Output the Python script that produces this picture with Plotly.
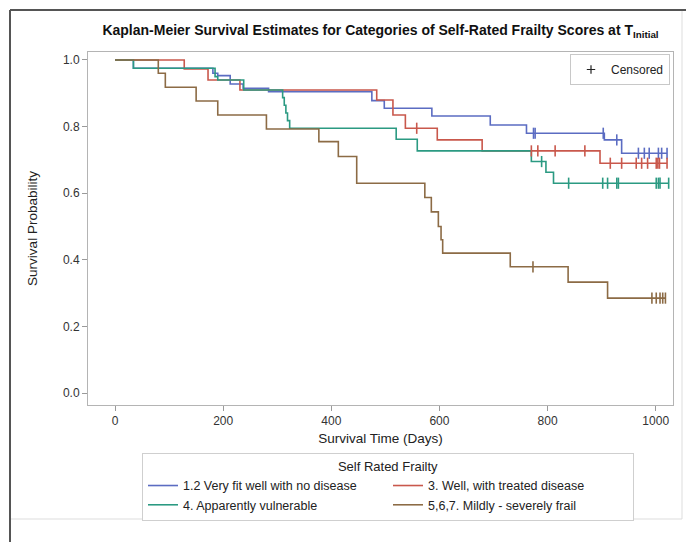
import plotly.graph_objects as go

# ---------------- data ----------------
group_names = [
    "1.2 Very fit well with no disease",
    "3. Well, with treated disease",
    "4. Apparently vulnerable",
    "5,6,7. Mildly - severely frail",
]

blue_times = [0, 34, 181, 190, 213, 237, 284, 475, 498, 586, 694, 761, 905, 937]
blue_surv = [1.0, 0.975, 0.96, 0.953, 0.928, 0.915, 0.905, 0.878, 0.855, 0.832, 0.805, 0.78, 0.76, 0.72]
blue_censor = [774, 777, 903, 928, 968, 979, 988, 1005, 1011, 1021]

red_times = [0, 128, 172, 231, 484, 514, 537, 596, 679, 897]
red_surv = [1.0, 0.973, 0.94, 0.91, 0.88, 0.835, 0.795, 0.76, 0.727, 0.69]
red_censor = [558, 770, 782, 814, 869, 916, 937, 964, 974, 985, 1001, 1004, 1007, 1021]

teal_times = [0, 34, 185, 190, 238, 310, 313, 316, 319, 323, 520, 559, 770, 797, 811]
teal_surv = [1.0, 0.975, 0.95, 0.94, 0.91, 0.887, 0.864, 0.841, 0.818, 0.795, 0.762, 0.727, 0.695, 0.663, 0.63]
teal_censor = [789, 839, 902, 911, 928, 931, 1001, 1005, 1008, 1024]

brown_times = [0, 80, 93, 150, 190, 280, 377, 413, 447, 573, 585, 598, 603, 606, 731, 838, 911]
brown_surv = [1.0, 0.96, 0.918, 0.877, 0.835, 0.793, 0.755, 0.71, 0.63, 0.587, 0.544, 0.50, 0.46, 0.42, 0.379, 0.333, 0.285]
brown_censor = [773, 993, 1001, 1008, 1013, 1018]

x_ticks = [0, 200, 400, 600, 800, 1000]
y_ticks = [0.0, 0.2, 0.4, 0.6, 0.8, 1.0]

colors = ["#5b6cc2", "#c9584c", "#2b9a82", "#8c6b45"]

series = [
    (blue_times, blue_surv, blue_censor),
    (red_times, red_surv, red_censor),
    (teal_times, teal_surv, teal_censor),
    (brown_times, brown_surv, brown_censor),
]

W, H = 686, 542
L, R, T, B = 88, 673, 52, 405  # plot area in pixels


def px2x(px):
    return (px - L) / (R - L)


def py2y(py):
    return (B - py) / (B - T)


def surv_at(times, surv, t):
    s = surv[0]
    for ti, si in zip(times, surv):
        if ti <= t:
            s = si
    return s


fig = go.Figure()
for (times, surv, cens), name, col in zip(series, group_names, colors):
    end_t = max(cens) if cens else times[-1]
    xs = list(times) + [end_t]
    ys = list(surv) + [surv[-1]]
    fig.add_trace(go.Scatter(
        x=xs, y=ys, mode="lines", line=dict(shape="hv", color=col, width=1.6),
        name=name, legend="legend", hoverinfo="skip"))
for (times, surv, cens), name, col in zip(series, group_names, colors):
    fig.add_trace(go.Scatter(
        x=cens, y=[surv_at(times, surv, t) for t in cens], mode="markers",
        marker=dict(symbol="line-ns", size=8, line=dict(width=1.6, color=col)),
        showlegend=False, hoverinfo="skip"))

fig.add_trace(go.Scatter(
    x=[None], y=[None], mode="markers", name="Censored", legend="legend2",
    marker=dict(symbol="cross-thin", size=6, line=dict(width=1.2, color="#222"))))

axis_common = dict(
    showline=True, linecolor="#b4b4b4", linewidth=1, mirror=True,
    ticks="outside", ticklen=5, tickcolor="#9a9a9a", showgrid=False, zeroline=False,
    tickfont=dict(size=12, color="#333"),
)

fig.update_layout(
    width=W, height=H,
    margin=dict(l=L, r=W - R, t=T, b=H - B, autoexpand=False),
    paper_bgcolor="white", plot_bgcolor="white",
    font=dict(family="Liberation Sans, Arial, sans-serif", color="#222"),
    title=dict(
        text="<b>Kaplan-Meier Survival Estimates for Categories of Self-Rated Frailty Scores at T<sub>Initial</sub></b>",
        x=0.5, xref="paper", xanchor="center", y=1 - 30 / H, yanchor="middle",
        font=dict(size=14, color="#111")),
    xaxis=dict(range=[-50, 1032], tickvals=x_ticks,
               title=dict(text="Survival Time (Days)", font=dict(size=13.5, color="#222"), standoff=6),
               **axis_common),
    yaxis=dict(range=[-0.036, 1.024], tickvals=y_ticks, tickformat=".1f",
               title=dict(text="Survival Probability", font=dict(size=13.5, color="#222"), standoff=22),
               **axis_common),
    legend=dict(
        orientation="h", x=px2x(142), y=py2y(453), xanchor="left", yanchor="top",
        bordercolor="#cfcfcf", borderwidth=1, bgcolor="white",
        font=dict(size=12.5, color="#222"), entrywidth=200, itemwidth=30,
        title=dict(text="Self Rated Frailty", side="top center", font=dict(size=13, color="#222")),
        tracegroupgap=0,
    ),
    legend2=dict(
        x=px2x(670), y=py2y(54), xanchor="right", yanchor="top",
        bordercolor="#c8c8c8", borderwidth=1, bgcolor="white",
        font=dict(size=12, color="#222"),
    ),
    shapes=[
        dict(type="rect", xref="paper", yref="paper", x0=px2x(10), x1=px2x(682),
             y0=py2y(519), y1=py2y(10), line=dict(color="#dddddd", width=1), layer="below"),
        dict(type="line", xref="paper", yref="paper", x0=px2x(10), x1=px2x(686),
             y0=py2y(10), y1=py2y(10), line=dict(color="#555555", width=2)),
        dict(type="line", xref="paper", yref="paper", x0=px2x(10), x1=px2x(10),
             y0=py2y(10), y1=py2y(542), line=dict(color="#555555", width=2)),
    ],
)

fig.write_html("out.html", config={"displayModeBar": False},
               post_script="document.body.style.margin='0px';")
